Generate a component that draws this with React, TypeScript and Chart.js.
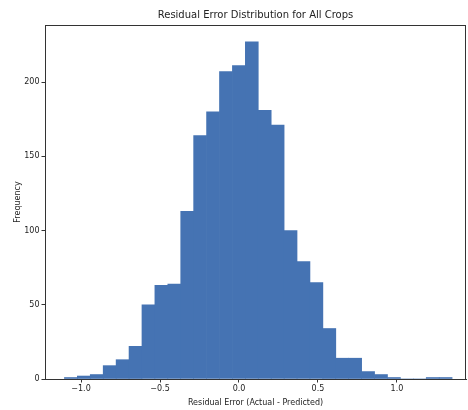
import React, { useEffect, useRef } from "react";
import { Chart, registerables } from "chart.js";

Chart.register(...registerables);

// Histogram bin centers (residual error) and counts per bin
const binCenters = [
  -1.0641, -0.9823, -0.9005, -0.8187, -0.7369, -0.6551, -0.5733, -0.4915, -0.4097, -0.3279,
  -0.2461, -0.1643, -0.0825, -0.0007, 0.0811, 0.1629, 0.2447, 0.3265, 0.4083, 0.4901,
  0.5719, 0.6537, 0.7355, 0.8173, 0.8991, 0.9809, 1.0627, 1.1445, 1.2263, 1.3081,
];
const counts = [
  1, 2, 3, 9, 13, 22, 50, 63, 64, 113,
  164, 180, 207, 211, 227, 181, 171, 100, 79, 65,
  34, 14, 14, 5, 3, 1, 0, 0, 1, 1,
];
const xTickValues = [-1.0, -0.5, 0.0, 0.5, 1.0];
const yTickValues = [0, 50, 100, 150, 200];

const titleText = "Residual Error Distribution for All Crops";
const xLabel = "Residual Error (Actual - Predicted)";
const yLabel = "Frequency";

const FONT = "'DejaVu Sans', sans-serif";
const TEXT = "#222";
const SPINE = "#333";

const framePlugin = {
  id: "frame",
  afterDraw(chart: any) {
    const { ctx, chartArea } = chart;
    ctx.save();
    ctx.strokeStyle = SPINE;
    ctx.lineWidth = 1;
    ctx.strokeRect(
      Math.round(chartArea.left) + 0.5,
      Math.round(chartArea.top) + 0.5,
      Math.round(chartArea.right - chartArea.left) - 1,
      Math.round(chartArea.bottom - chartArea.top)
    );
    ctx.restore();
  },
};

export default function App() {
  const ref = useRef<HTMLCanvasElement | null>(null);
  useEffect(() => {
    if (!ref.current) return;
    const chart = new Chart(ref.current, {
      type: "bar",
      data: {
        datasets: [
          {
            data: binCenters.map((x, i) => ({ x, y: counts[i] })),
            backgroundColor: "#4573b3",
            borderWidth: 0,
            barPercentage: 1,
            categoryPercentage: 1,
          },
        ],
      },
      plugins: [framePlugin],
      options: {
        responsive: false,
        animation: false,
        layout: { padding: { left: 0, right: 2, top: 0, bottom: 0 } },
        plugins: {
          legend: { display: false },
          tooltip: { enabled: false },
          title: {
            display: true,
            text: titleText,
            fullSize: false,
            color: TEXT,
            font: { family: FONT, size: 10, weight: "normal" },
            padding: { top: 9, bottom: 4 },
          },
        },
        scales: {
          x: {
            type: "linear",
            offset: false,
            min: -1.228,
            max: 1.437,
            afterBuildTicks: (s: any) => {
              s.ticks = xTickValues.map((v) => ({ value: v }));
            },
            afterFit: (s: any) => {
              s.height = 31;
            },
            ticks: {
              color: TEXT,
              font: { family: FONT, size: 8 },
              padding: 2,
              maxRotation: 0,
              autoSkip: false,
              callback: (v: any) => Number(v).toFixed(1).replace("-", "\u2212"),
            },
            grid: {
              offset: false,
              drawOnChartArea: false,
              drawTicks: true,
              tickLength: 3.5,
              tickColor: SPINE,
            },
            border: { display: true, color: SPINE },
            title: {
              display: true,
              text: xLabel,
              color: TEXT,
              font: { family: FONT, size: 8 },
              padding: { top: 0, bottom: 2 },
            },
          },
          y: {
            type: "linear",
            min: 0,
            max: 238.4,
            afterBuildTicks: (s: any) => {
              s.ticks = yTickValues.map((v) => ({ value: v }));
            },
            afterFit: (s: any) => {
              s.width = 45;
            },
            ticks: {
              color: TEXT,
              font: { family: FONT, size: 8 },
              padding: 2,
              autoSkip: false,
            },
            grid: {
              drawOnChartArea: false,
              drawTicks: true,
              tickLength: 3.5,
              tickColor: SPINE,
            },
            border: { display: true, color: SPINE },
            title: {
              display: true,
              text: yLabel,
              color: TEXT,
              font: { family: FONT, size: 8 },
              padding: { top: 13, bottom: 0 },
            },
          },
        },
      },
    });
    return () => chart.destroy();
  }, []);
  return (
    <div style={{ position: "fixed", left: 0, top: 0, width: 468, height: 410, background: "#fff" }}>
      <canvas ref={ref} width={468} height={410} style={{ width: 468, height: 410 }} />
    </div>
  );
}
